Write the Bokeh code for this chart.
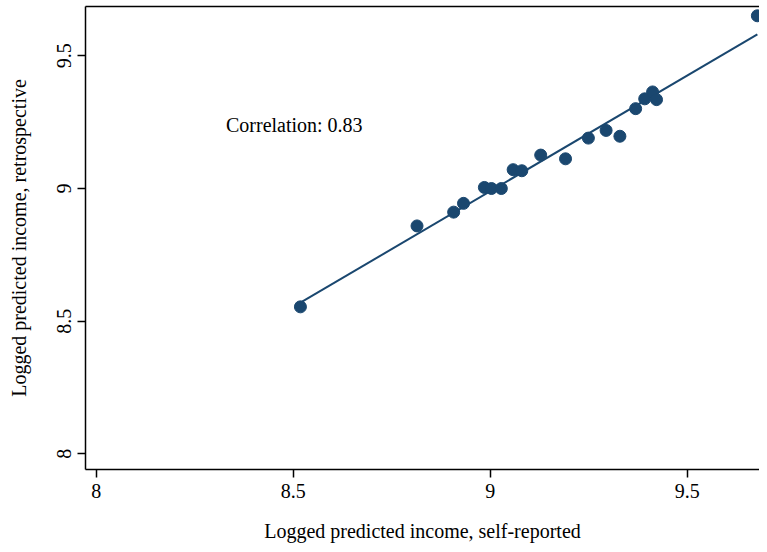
import numpy as np
from bokeh.plotting import figure
from bokeh.models import LinearAxis, FixedTicker, Label, Range1d
from bokeh.embed import file_html
from bokeh.resources import INLINE

# Data
self_reported = [8.518, 8.814, 8.907, 8.932, 8.985, 9.003, 9.028, 9.058, 9.080,
                 9.128, 9.191, 9.249, 9.294, 9.329, 9.369, 9.392, 9.412, 9.422, 9.678]
retrospective = [8.554, 8.859, 8.911, 8.944, 9.004, 9.000, 9.000, 9.071, 9.067,
                 9.126, 9.112, 9.190, 9.219, 9.197, 9.301, 9.338, 9.364, 9.335, 9.651]
x_ticks = [8, 8.5, 9, 9.5]
y_ticks = [8, 8.5, 9, 9.5]
tick_labels = {8: "8", 8.5: "8.5", 9: "9", 9.5: "9.5"}
corr_text = "Correlation: 0.83"
corr_pos = (8.329, 9.240)

FONT = "Liberation Serif"
NAVY = "#1a476f"

p = figure(width=759, height=544, output_backend="svg", toolbar_location=None,
           x_range=Range1d(7.9724, 9.6834), y_range=Range1d(7.941, 9.686))
p.min_border_left = 85
p.min_border_right = 0
p.min_border_top = 6
p.min_border_bottom = 73
p.outline_line_color = None
p.xgrid.visible = False
p.ygrid.visible = False
p.background_fill_color = "white"
p.border_fill_color = "white"

# regression line
xs = np.array(self_reported)
ys = np.array(retrospective)
b, a = np.polyfit(xs, ys, 1)
lx = np.array([xs.min(), xs.max()])
p.line(lx, a + b * lx, line_color=NAVY, line_width=2)

p.scatter(self_reported, retrospective, size=12, fill_color=NAVY, line_color=NAVY)

p.add_layout(Label(x=corr_pos[0], y=corr_pos[1], text=corr_text, text_font=FONT,
                   text_font_size="20px", text_baseline="middle", text_align="left",
                   text_color="black"))

for ax in (p.xaxis[0], p.yaxis[0]):
    ax.axis_line_color = "black"
    ax.axis_line_width = 1.5
    ax.major_tick_line_color = "black"
    ax.major_tick_line_width = 1.5
    ax.major_tick_in = 0
    ax.major_tick_out = 8
    ax.minor_tick_line_color = None
    ax.major_label_text_font = FONT
    ax.major_label_text_font_size = "20px"
    ax.major_label_text_color = "black"
    ax.axis_label_text_font = FONT
    ax.axis_label_text_font_size = "20px"
    ax.axis_label_text_font_style = "normal"
    ax.axis_label_text_color = "black"
    ax.major_label_overrides = tick_labels

p.xaxis[0].ticker = FixedTicker(ticks=x_ticks)
p.yaxis[0].ticker = FixedTicker(ticks=y_ticks)
p.xaxis[0].axis_label = "Logged predicted income, self-reported"
p.yaxis[0].axis_label = "Logged predicted income, retrospective"
p.yaxis[0].major_label_orientation = "vertical"
p.xaxis[0].major_label_standoff = 6
p.xaxis[0].axis_label_standoff = 19
p.yaxis[0].major_label_standoff = 6
p.yaxis[0].axis_label_standoff = 25

top = LinearAxis(ticker=FixedTicker(ticks=[]), axis_line_color="black", axis_line_width=1.5,
                 major_tick_out=0, major_tick_in=0, minor_tick_out=0, minor_tick_in=0,
                 major_label_standoff=0, major_label_text_font_size="0px")
p.add_layout(top, "above")

open("out.html", "w").write(file_html(p, INLINE))
